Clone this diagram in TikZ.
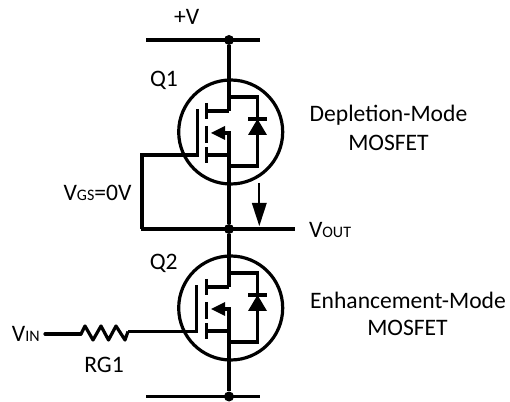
\documentclass[tikz,border=0pt]{standalone}
\usepackage{xcolor,tikz,fontspec}
\setmainfont{Carlito}
\tikzset{
  wire/.style={draw=drawColor,line width=3.2pt,line join=miter},
  junction/.style={circle,fill=drawColor,inner sep=0pt,minimum size=10pt},
  case/.style={circle,draw=drawColor,line width=3.2pt,inner sep=0pt,minimum size=104pt},
  solid tip/.style={fill=drawColor,draw=none},
  label/.style={text=drawColor,inner sep=0pt,outer sep=0pt,font=\fontsize{23.6}{28}\selectfont}
}
\newcommand{\lowtext}[1]{{\fontsize{16}{18}\selectfont #1}}
\begin{document}
\begin{tikzpicture}[x=1pt,y=1pt]
\definecolor{drawColor}{RGB}{0,0,0}
\path[use as bounding box] (0,0) rectangle (510,401);

% supply and output
\node[junction] (top) at (229,361) {};
\node[junction] (out) at (229,172) {};
\node[junction] (bot) at (229,4.5) {};
\coordinate (topL) at (146,361);
\coordinate (topR) at (260,361);
\coordinate (botL) at (146,4.5);
\coordinate (botR) at (260,4.5);
\coordinate (outL) at (140.5,172);
\coordinate (outR) at (295,172);
\path[wire] (topL) -- (topR);
\path[wire] (botL) -- (botR);
\path[wire] (outL) -- (outR);

% Q1
\begin{scope}[shift={(0,176)}]
\node[case] (caseA) at (230.7,93) {};
\coordinate (drainA) at (229,114);
\coordinate (sourceA) at (229,70);
\coordinate (gateA) at (197.3,70);
\coordinate (bodyA) at (229,92);
\path[wire] (207,114) -- (drainA);
\path[wire] (207,70) -- (sourceA);
\path[wire] (197.3,68.4) -- (197.3,116);
\path[wire] (206.3,122) -- (206.3,106);
\path[wire] (206.3,99) -- (206.3,82);
\path[wire] (206.3,78) -- (206.3,62);
\path[wire] (220,92) -- (bodyA) -- (sourceA);
\path[solid tip] (211,92) -- (225,99) -- (225,85) -- cycle;
\path[wire] (229,128) -- (257.7,128) -- (257.7,59) -- (229,59);
\path[solid tip] (257.5,106) -- (248,90) -- (267,90) -- cycle;
\path[wire] (248,106) -- (267,106);
\end{scope}
\coordinate (kneeA) at (142,246);
\path[wire] (gateA) -- (kneeA) -- (142,172);
\path[wire] (top) -- (drainA);
\path[wire] (sourceA) -- (out);

% Q2
\node[case] (caseB) at (230.7,93) {};
\coordinate (drainB) at (229,114);
\coordinate (sourceB) at (229,70);
\coordinate (gateB) at (196.7,69.5);
\coordinate (bodyB) at (229,92);
\path[wire] (207,114) -- (drainB);
\path[wire] (207,70) -- (sourceB);
\path[wire] (196.7,68) -- (196.7,116);
\path[wire] (206.3,122) -- (206.3,106);
\path[wire] (206.3,99) -- (206.3,82);
\path[wire] (206.3,78) -- (206.3,62);
\path[wire] (220,92) -- (bodyB) -- (sourceB);
\path[solid tip] (211,92) -- (225,99) -- (225,85) -- cycle;
\path[wire] (229,128) -- (257.7,128) -- (257.7,59) -- (229,59);
\path[solid tip] (257.5,106) -- (248,90) -- (267,90) -- cycle;
\path[wire] (248,106) -- (267,106);
\path[wire] (out) -- (drainB);
\path[wire] (sourceB) -- (bot);

% gate resistor
\coordinate (vinEnd) at (45,67);
\coordinate (rgA) at (81,67);
\coordinate (rgB) at (128,69.5);
\path[wire,line cap=round] (vinEnd) -- (rgA);
\path[wire,line join=round] (rgA) -- (85,75) -- (93,61) -- (101,75) -- (108.5,61) -- (116,75) -- (125,61) -- (rgB);
\path[wire] (rgB) -- (gateB);

% output arrow
\coordinate (arrowA) at (259.3,218);
\coordinate (arrowB) at (259.3,198);
\path[draw=drawColor,line width=1.8pt] (arrowA) -- (arrowB);
\path[solid tip] (259.3,175) -- (251.8,198) -- (266.8,198) -- cycle;

% labels
\node[label] (lblV) at (186.7,384) {+V};
\node[label] (lblQa) at (164,321) {Q1};
\node[label] (lblQb) at (163.7,138) {Q2};
\node[label] (lblDepl) at (388.5,286) {Depletion-Mode};
\node[label] (lblDeplB) at (388.5,258) {MOSFET};
\node[label] (lblEnh) at (408,101) {Enhancement-Mode};
\node[label] (lblEnhB) at (407.5,73) {MOSFET};
\node[label] (lblVgs) at (97.5,208) {V\lowtext{GS}=0V};
\node[label,anchor=west] (lblOut) at (309,171) {V\lowtext{OUT}};
\node[label,anchor=west] (lblIn) at (12,67) {V\lowtext{IN}};
\node[label] (lblRg) at (104,36) {RG1};
\end{tikzpicture}
\end{document}
